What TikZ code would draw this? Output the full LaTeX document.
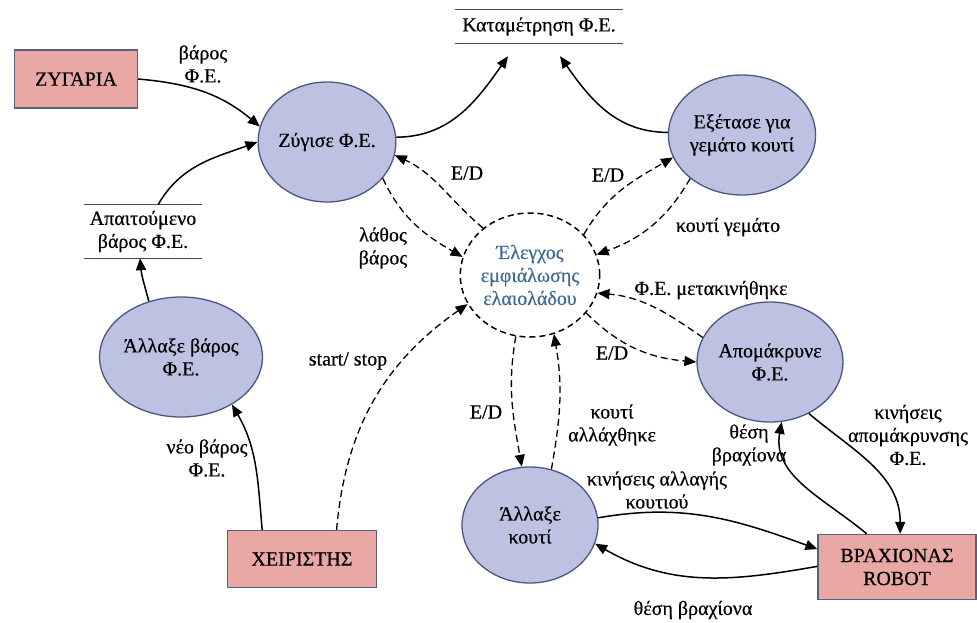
\documentclass[tikz,border=0pt]{standalone}
\usepackage{fontspec}
\setmainfont{Liberation Serif}
\newfontfamily\dfont[FakeBold=0.5]{Liberation Serif}
\usetikzlibrary{shapes.geometric,arrows.meta,calc}
\definecolor{procfill}{HTML}{BEC2E2}
\definecolor{procdraw}{HTML}{4B5782}
\definecolor{extfill}{HTML}{E9A8A4}
\definecolor{extdraw}{HTML}{56607F}
\definecolor{ctrltext}{HTML}{3E6A96}
\definecolor{storeline}{HTML}{3D4766}
\begin{document}
\begin{tikzpicture}[x=1pt,y=1pt,
 every node/.style={font=\dfont\fontsize{20}{23}\selectfont},
 proc/.style={ellipse, draw=procdraw, fill=procfill, line width=1.3pt, minimum width=136pt, minimum height=120pt, inner sep=0pt, align=center},
 ctrl/.style={ellipse, draw=black, dash pattern=on 6pt off 4pt, line width=1.5pt, minimum width=136pt, minimum height=124pt, inner sep=0pt, align=center, text=ctrltext},
 ext/.style={rectangle, draw=extdraw, fill=extfill, line width=1.3pt, align=center, inner sep=0pt},
 store/.style={inner sep=0pt, align=center},
 flow/.style={line width=1.5pt, -{Triangle[length=12pt,width=10pt]}},
 cflow/.style={flow, dash pattern=on 7pt off 4pt, line width=1.3pt},
 lbl/.style={align=center, inner sep=0pt}
]
\useasboundingbox[fill=white] (0,0) rectangle (977,-622);

% processes
\node[proc] (zyg) at (327,-142) {Ζύγισε Φ.Ε.};
\node[proc] (exet) at (742,-135) {Εξέτασε για\\γεμάτο κουτί};
\node[proc] (allb) at (181,-357) {Άλλαξε βάρος\\Φ.Ε.};
\node[proc] (apom) at (770,-362) {Απομάκρυνε\\Φ.Ε.};
\node[proc, minimum height=116pt] (allk) at (530,-525) {Άλλαξε\\κουτί};
\node[ctrl] (ctrl) at (530,-275) {Έλεγχος\\εμφιάλωσης\\ελαιολάδου};

% externals
\node[ext, minimum width=123pt, minimum height=58pt] (zyga) at (76,-79) {ΖΥΓΑΡΙΑ};
\node[ext, minimum width=149pt, minimum height=57pt] (xeir) at (302,-559) {ΧΕΙΡΙΣΤΗΣ};
\node[ext, minimum width=158pt, minimum height=65pt] (robot) at (897,-567) {ΒΡΑΧΙΟΝΑΣ\\ROBOT};

% stores
\node[store, minimum width=168pt, minimum height=33pt] (kat) at (539,-26.5) {Καταμέτρηση Φ.Ε.};
\node[store, minimum width=118pt, minimum height=53pt] (apait) at (143,-231.5) {Απαιτούμενο\\βάρος Φ.Ε.};
\draw[storeline, line width=1.3pt] (kat.north west) -- (kat.north east) (kat.south west) -- (kat.south east);
\draw[storeline, line width=1.3pt] (apait.north west) -- (apait.north east) (apait.south west) -- (apait.south east);

% solid flows
\draw[flow] (zyga.east) to[out=-5,in=140] (zyg.167);
\draw[flow] ($(apait.north)+(15,0)$) to[out=60,in=200] (zyg.180);
\draw[flow] (allb.120) to[out=105,in=-85] ($(apait.south)+(-3,0)$);
\draw[flow] ($(xeir.north west)!0.235!(xeir.north east)$) to[out=95,in=-60] (allb.-43);
\draw[flow] (zyg.4) to[out=0,in=235] ($(kat.south)+(-31,-13)$);
\draw[flow] (exet.178) to[out=180,in=-55] ($(kat.south)+(21,-13)$);
\draw[flow] (allk.6) to[out=10,in=160] ($(robot.north west)!0.23!(robot.south west)$);
\draw[flow] ($(robot.north west)!0.49!(robot.south west)$) to[out=190,in=-30] (allk.-16);
\draw[flow] ($(robot.north west)!0.31!(robot.north east)$) to[out=140,in=-100] (apom.-79);
\draw[flow] (apom.-53) to[out=-40,in=90] ($(robot.north west)!0.52!(robot.north east)$);

% control flows
\draw[cflow] ($(xeir.north west)!0.73!(xeir.north east)$) to[out=85,in=215] (ctrl.205);
\draw[cflow] (ctrl.135) to[out=140,in=-25] (zyg.-11);
\draw[cflow] (zyg.-33) to[out=-65,in=150] (ctrl.165);
\draw[cflow] (ctrl.37) to[out=60,in=210] (exet.198);
\draw[cflow] (exet.220) to[out=240,in=20] (ctrl.17);
\draw[cflow] (apom.160) to[out=145,in=-5] (ctrl.-15);
\draw[cflow] (ctrl.-34) to[out=-45,in=175] (apom.180);
\draw[cflow] (ctrl.257) to[out=-100,in=100] (allk.98);
\draw[cflow] (allk.69) to[out=80,in=-80] (ctrl.-68);

% labels
\node[lbl] (l1) at (203,-64) {βάρος\\Φ.Ε.};
\node[lbl] (l2) at (207,-458) {νέο βάρος\\Φ.Ε.};
\node[lbl] (l3) at (348,-361) {start/ stop};
\node[lbl] (l4) at (467,-173) {E/D};
\node[lbl] (l5) at (383,-248) {λάθος\\βάρος};
\node[lbl] (l6) at (608,-175) {E/D};
\node[lbl] (l7) at (728,-227) {κουτί γεμάτο};
\node[lbl] (l8) at (711,-290) {Φ.Ε. μετακινήθηκε};
\node[lbl] (l9) at (612,-353) {E/D};
\node[lbl] (l10) at (486,-412) {E/D};
\node[lbl] (l11) at (612,-425) {κουτί\\αλλάχθηκε};
\node[lbl] (l12) at (657,-490) {κινήσεις αλλαγής\\κουτιού};
\node[lbl] (l13) at (693,-610) {θέση βραχίονα};
\node[lbl] (l14) at (749,-445) {θέση\\βραχίονα};
\node[lbl] (l15) at (908,-435) {κινήσεις\\απομάκρυνσης\\Φ.Ε.};
\end{tikzpicture}
\end{document}
